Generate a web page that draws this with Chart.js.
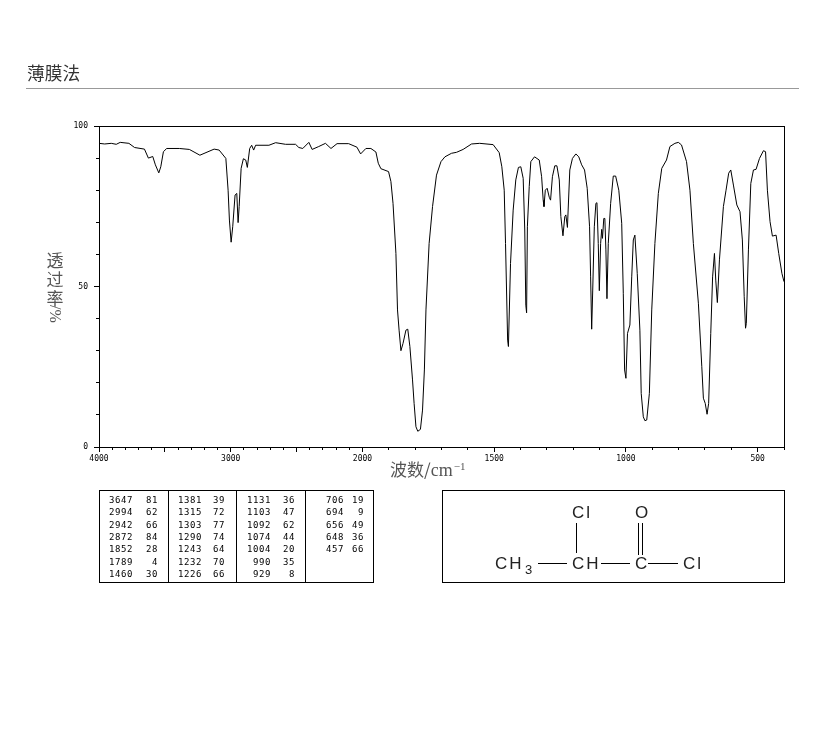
<!DOCTYPE html>
<html lang="zh">
<head>
<meta charset="utf-8">
<title>薄膜法</title>
<script src="https://cdn.jsdelivr.net/npm/chart.js@4"></script>
<style>
html,body{margin:0;padding:0;background:#fff;width:822px;height:737px;overflow:hidden}
#c{position:absolute;left:0;top:0}
.abs{position:absolute;white-space:nowrap}
#title{left:27px;top:59px;font:17.7px/26px "Noto Sans CJK SC",sans-serif;color:#333}
#rule{left:26px;top:88px;width:773px;height:1px;background:#999}
.ych{left:45px;width:20px;text-align:center;font:17px/20px "Noto Sans CJK SC",sans-serif;color:#555}
#xlab{left:390px;top:458px;font:17px/22px "Noto Sans CJK SC",sans-serif;color:#555}
#xlab .u{font-family:"Liberation Serif",serif;font-size:18px}
#xlab sup{font:11px/1 "Liberation Serif",serif;vertical-align:6px;margin-left:1px}
#tbl{left:99px;top:490px;width:275px;height:93px;border:1px solid #000;box-sizing:border-box}
.cell{position:absolute;font:9px/10px "DejaVu Sans Mono",monospace;letter-spacing:.6px;color:#000;text-align:right}
.sep{position:absolute;top:0;bottom:0;width:1px;background:#000}
svg{position:absolute;left:0;top:0}
svg text{font-family:"Liberation Sans",sans-serif;font-size:17px;fill:#222;letter-spacing:2px}
</style>
</head>
<body>
<canvas id="c" width="822" height="737"></canvas>
<div id="title" class="abs">薄膜法</div>
<div id="rule" class="abs"></div>
<div class="abs ych" style="top:250px">透</div>
<div class="abs ych" style="top:269px">过</div>
<div class="abs ych" style="top:288px">率</div>
<div class="abs ych" style="top:304px;font:16px/20px 'Liberation Serif',serif;letter-spacing:0;transform:rotate(90deg)">/%</div>
<div id="xlab" class="abs">波数/<span class="u">cm</span><sup>−1</sup></div>
<div id="tbl" class="abs"></div>
<svg width="822" height="737" aria-label="structure">
  <rect x="442.5" y="490.5" width="342" height="92" fill="none" stroke="#000"/>
  <g stroke="#000" stroke-width="1" shape-rendering="crispEdges">
    <line x1="538" y1="563.5" x2="567" y2="563.5"/>
    <line x1="601" y1="563.5" x2="630" y2="563.5"/>
    <line x1="648" y1="563.5" x2="678" y2="563.5"/>
    <line x1="576.5" y1="523" x2="576.5" y2="553"/>
    <line x1="638.5" y1="523" x2="638.5" y2="555"/>
    <line x1="642.5" y1="523" x2="642.5" y2="555"/>
  </g>
  <text x="572" y="518">Cl</text>
  <text x="635" y="518">O</text>
  <text x="495" y="569">CH</text>
  <text x="525" y="574" style="font-size:13px">3</text>
  <text x="572" y="569">CH</text>
  <text x="635" y="569">C</text>
  <text x="683" y="569">Cl</text>
</svg>
<script>
// Spectrum
const wavenumbers = [4000,3957,3907,3869,3839,3773,3730,3655,3625,3592,3572,3546,3531,3511,3486,3390,3314,3234,3126,3088,3037,3020,3010,2997,2985,2967,2954,2944,2936,2921,2904,2886,2874,2856,2841,2826,2811,2710,2659,2584,2508,2483,2453,2407,2382,2332,2281,2239,2193,2105,2042,2014,1987,1968,1949,1940,1930,1901,1892,1884,1873,1867,1861,1854,1846,1835,1828,1820,1810,1804,1797,1790,1780,1772,1765,1759,1747,1734,1719,1702,1687,1662,1643,1618,1586,1555,1504,1481,1471,1462,1457,1449,1446,1438,1428,1418,1408,1399,1390,1384,1380,1377,1374,1367,1361,1347,1329,1320,1314,1311,1306,1299,1291,1286,1279,1270,1262,1253,1247,1239,1232,1228,1222,1213,1203,1190,1179,1168,1157,1147,1138,1134,1130,1126,1120,1114,1110,1105,1101,1096,1092,1089,1084,1080,1076,1072,1067,1058,1048,1039,1027,1016,1010,1005,1000,994,985,978,972,966,957,947,942,934,928,921,911,902,890,877,864,846,833,814,801,789,770,757,744,725,712,706,699,692,686,678,671,664,659,653,645,630,620,610,602,592,579,567,558,551,546,543,535,526,516,506,493,478,470,463,453,444,430,420,408,400];
const transmittance = [94.6,94.4,94.6,94.3,94.9,94.6,93.3,92.8,90,90.5,87.9,85.4,87.3,92,93,93,92.7,90.9,92.8,92.5,89.9,80,70.7,63.8,68.6,78.5,79,69.9,74.9,86.8,89.8,89.4,87.1,93,94,92.5,94,94,94.8,94.3,94.3,93.3,93,94.9,92.7,93.6,94.6,93,94.5,94.5,93.4,91.3,93,93,91.9,88.4,86.7,85.8,82.7,75.9,60.3,42.7,36.4,30,32.3,36.4,36.7,31.3,20.9,13.6,6.3,4.9,5.5,11.5,24,42.7,63.4,74.9,84.7,88.9,90.4,91.5,91.8,92.7,94.4,94.6,94.2,91.7,87.3,80,63.4,33.3,31.3,57.2,73.8,83.2,87.1,87.3,83.7,67.6,44.2,41.8,68.6,81.1,88.9,90.4,89.4,84.2,76.9,74.9,80,80.6,77.8,76.9,84.2,87.6,87.6,83.2,71.8,65.8,71.8,72.3,68.4,86.3,89.9,91.3,90.4,87.9,86.3,80.6,68.6,53,36.7,48.9,68.6,75.9,76.1,63.4,48.7,63.4,67.8,65,71.2,71.2,61.4,46.2,63.4,75.9,84.4,84.4,80,69.7,47.9,24,21.4,35.4,38,53,64.5,66,54,36.4,16.7,9.4,8.2,8.4,16.7,42.7,63.4,79,86.8,89.4,93.6,94.6,94.9,94.1,88.9,80,63.4,44.8,25,15.2,13.6,10.2,13.6,35.4,53,60.3,52,45,58.3,74.9,80,85.3,86.3,81.6,75.4,73.3,64.5,46.8,37,38.5,61.4,82.1,86.3,86.5,89.9,92.3,92,80,70.2,65.7,66,60.3,54.1,51.5];

// Axis ticks
const xMajorTicks = [4000,3500,3000,2500,2000,1500,1000,500];
const xLabelled = [4000,3000,2000,1500,1000,500];
const xMinorTicks = [3900,3800,3700,3600,3400,3300,3200,3100,2900,2800,2700,2600,2400,2300,2200,2100,1900,1800,1700,1600,1400,1300,1200,1100,900,800,700,600,400];
const yMajorTicks = [0,50,100];
const yMinorTicks = [10,20,30,40,60,70,80,90];

// Peak table, read column by column
const peakWavenumbers = [[3647,2994,2942,2872,1852,1789,1460],[1381,1315,1303,1290,1243,1232,1226],[1131,1103,1092,1074,1004,990,929],[706,694,656,648,457]];
const peakValues = [[81,62,66,84,28,4,30],[39,72,77,74,64,70,66],[36,47,62,44,20,35,8],[19,9,49,36,66]];

// The instrument's axis doubles its scale below 2000 cm-1
const breakAt = 2000;
const axisPos = w => w >= breakAt ? (4000 - w) / 2 : 1000 + (breakAt - w);
const posToWave = p => p <= 1000 ? 4000 - p * 2 : breakAt - (p - 1000);

const fixedTicks = list => s => { s.ticks = list.map(v => ({value: v})); };
const xFixedTicks = list => s => { s.ticks = list.map(w => ({value: axisPos(w)})); };
const font = {family: '"DejaVu Sans Mono", monospace', size: 8};
const grid = len => ({display: true, drawOnChartArea: false, drawTicks: true, tickLength: len, tickColor: '#000', color: '#000'});

const frame = {
  id: 'frame',
  afterDraw(chart) {
    const a = chart.chartArea, g = chart.ctx;
    g.save(); g.strokeStyle = '#000'; g.lineWidth = 1;
    g.strokeRect(Math.round(a.left) + .5, Math.round(a.top) + .5, Math.round(a.right - a.left), Math.round(a.bottom - a.top));
    g.restore();
  }
};

new Chart(document.getElementById('c'), {
  type: 'line',
  data: {datasets: [{
    data: wavenumbers.map((w, i) => ({x: axisPos(w), y: transmittance[i]})),
    borderColor: '#000', borderWidth: 1, pointRadius: 0, tension: 0, fill: false
  }]},
  plugins: [frame],
  options: {
    responsive: false, animation: false, parsing: false, normalized: true,
    layout: {padding: {left: 0, top: 126, right: 38, bottom: 270}},
    plugins: {legend: {display: false}, tooltip: {enabled: false}, title: {display: false}},
    scales: {
      x: {
        type: 'linear', min: 0, max: 2600, position: 'bottom',
        afterBuildTicks: xFixedTicks(xMajorTicks),
        afterFit: s => { s.height = 20; },
        grid: grid(5), border: {display: false},
        ticks: {font, color: '#000', padding: 2, autoSkip: false, maxRotation: 0,
          callback: v => { const w = Math.round(posToWave(v)); return xLabelled.includes(w) ? String(w) : ''; }}
      },
      xMinor: {
        type: 'linear', min: 0, max: 2600, position: {y: 0},
        afterBuildTicks: xFixedTicks(xMinorTicks),
        grid: grid(3), border: {display: false},
        ticks: {display: false, autoSkip: false}
      },
      y: {
        type: 'linear', min: 0, max: 100, position: 'left',
        afterBuildTicks: fixedTicks(yMajorTicks),
        afterFit: s => { s.width = 99; },
        grid: grid(5), border: {display: false},
        ticks: {font, color: '#000', padding: 6, autoSkip: false}
      },
      yMinor: {
        type: 'linear', min: 0, max: 100, position: {x: 0},
        afterBuildTicks: fixedTicks(yMinorTicks),
        grid: grid(3), border: {display: false},
        ticks: {display: false, autoSkip: false}
      }
    }
  }
});

// Peak table as real text
const tbl = document.getElementById('tbl');
const rowTop = [4, 16, 29, 41, 53, 66, 78];
const waveRight = [33, 102, 171, 244];
const valRight = [58, 125, 195, 264];
[69, 137, 206].forEach(l => { const d = document.createElement('div'); d.className = 'sep'; d.style.left = (l - 1) + 'px'; tbl.appendChild(d); });
const addCell = (text, right, top) => {
  const d = document.createElement('div');
  d.className = 'cell'; d.textContent = text;
  d.style.right = (273 - right) + 'px'; d.style.top = top + 'px';
  tbl.appendChild(d);
};
peakWavenumbers.forEach((col, c) => col.forEach((w, r) => {
  addCell(w, waveRight[c], rowTop[r]);
  addCell(peakValues[c][r], valRight[c], rowTop[r]);
}));
</script>
</body>
</html>
